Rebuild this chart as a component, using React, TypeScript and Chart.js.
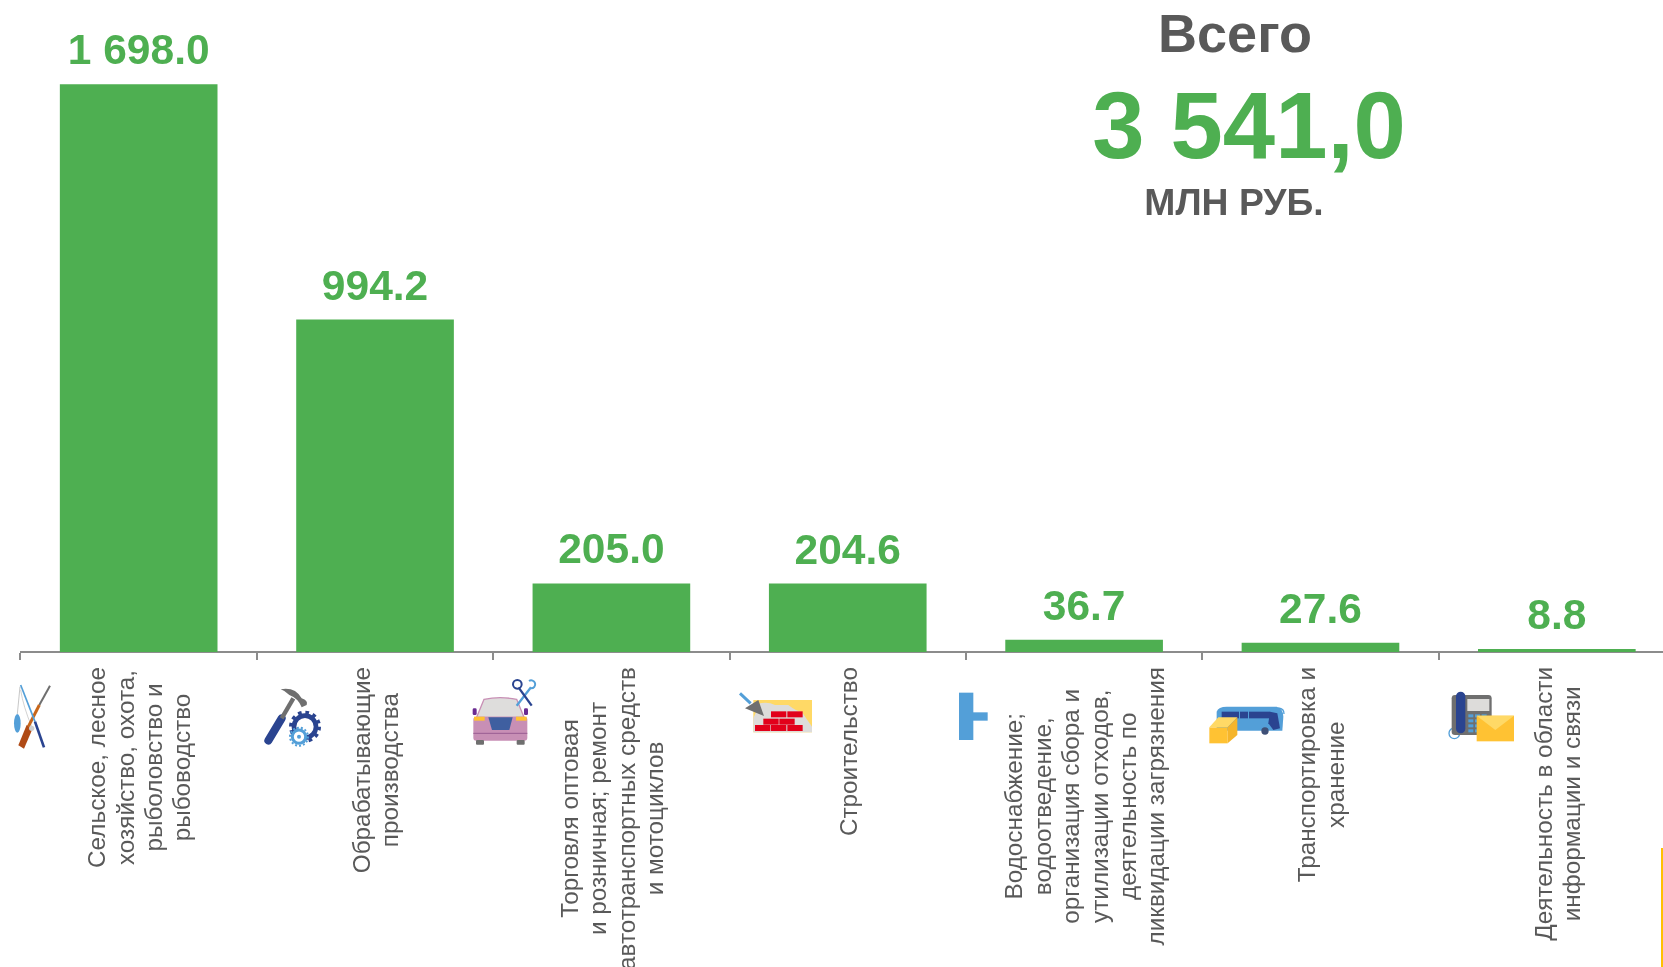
import React, { useEffect, useRef } from "react";
import { Chart, registerables } from "chart.js";

Chart.register(...registerables);

const categories: string[][] = [
  ["Сельское, лесное", "хозяйство, охота,", "рыболовство и", "рыбоводство"],
  ["Обрабатывающие", "производства"],
  ["Торговля оптовая", "и розничная; ремонт", "автотранспортных средств", "и мотоциклов"],
  ["Строительство"],
  ["Водоснабжение;", "водоотведение,", "организация сбора и", "утилизации отходов,", "деятельность по", "ликвидации загрязнения"],
  ["Транспортировка и", "хранение"],
  ["Деятельность в области", "информации и связи"],
];
const values: number[] = [1698.0, 994.2, 205.0, 204.6, 36.7, 27.6, 8.8];
const headline = "Всего";
const total = "3 541,0";
const unit = "МЛН РУБ.";

const GREEN = "#4EAF51";
const GREY = "#595959";
const AXIS = "#8C8C8C";
const FONT = "'Liberation Sans', Arial, sans-serif";
const TICK_SIZE = 24.3;
const TICK_LINE = 28.4;
const LABEL_TOP = 667;

const fmt = (v: number) => {
  const [a, b] = v.toFixed(1).split(".");
  return a.replace(/\B(?=(\d{3})+$)/g, " ") + "." + b;
};

const textPlugin = {
  id: "texts",
  beforeDraw(chart: any) {
    const scale = chart.scales.x;
    const items = scale.getLabelItems(chart.chartArea);
    const ctx = chart.ctx;
    ctx.save();
    ctx.font = `${TICK_SIZE}px ${FONT}`;
    items.forEach((item: any) => {
      const lines: string[] = Array.isArray(item.label) ? item.label : [item.label];
      const longest = Math.max(...lines.map((l) => ctx.measureText(l).width));
      const idx = categories.findIndex((c) => c[0] === lines[0]);
      item.textOffset = (-(lines.length - 1) / 2) * TICK_LINE;
      item.options.textAlign = "center";
      item.options.textBaseline = "middle";
      item.options.translation = [scale.getPixelForTick(idx) + 2.5, LABEL_TOP + longest / 2];
    });
    ctx.restore();
  },
  afterDraw(chart: any) {
    const ctx = chart.ctx;
    ctx.save();
    ctx.textAlign = "center";
    ctx.textBaseline = "alphabetic";
    ctx.fillStyle = GREEN;
    ctx.font = `bold 42.5px ${FONT}`;
    chart.getDatasetMeta(0).data.forEach((bar: any, i: number) => {
      ctx.fillText(fmt(values[i]), bar.x, bar.y - 20);
    });
    ctx.fillStyle = GREY;
    ctx.font = `bold 54px ${FONT}`;
    ctx.fillText(headline, 1235, 52);
    ctx.fillStyle = GREEN;
    ctx.font = `bold 94px ${FONT}`;
    ctx.fillText(total, 1249, 158);
    ctx.fillStyle = GREY;
    ctx.font = `bold 37.3px ${FONT}`;
    ctx.fillText(unit, 1234, 215);
    ctx.restore();
  },
};

const NAVY = "#2A4490";
const BLUE = "#539FD8";
const YEL = "#FFC233";
const YEL2 = "#FFD966";
const GR = "#6F6F6F";
const PINK = "#C88FB5";
const S = "scale(0.33333)";

const bricks = [
  [933, 124], [982, 124], [910, 146], [958, 146], [885, 165], [933, 165], [982, 165],
];
const keys = [103, 118, 133, 148];

const Icons = () => (
  <svg width={1663} height={967} style={{ position: "absolute", left: 0, top: 0, pointerEvents: "none" }}>
    <g transform={`translate(0,670) ${S}`}>
      <path d="M60,50 L52,132" stroke="#AAA" strokeWidth={2} fill="none" />
      <path d="M62,60 Q70,110 95,170" stroke="#BBB" strokeWidth={2} fill="none" />
      <ellipse cx={52} cy={160} rx={10} ry={28} fill={BLUE} />
      <line x1={150} y1={47} x2={118} y2={105} stroke={GR} strokeWidth={6} />
      <line x1={118} y1={105} x2={85} y2={170} stroke="#C8661A" strokeWidth={9} />
      <polygon points="80,165 97,178 72,236 55,226" fill="#B04A15" />
      <line x1={62} y1={45} x2={105} y2={155} stroke={BLUE} strokeWidth={5} />
      <line x1={105} y1={155} x2={132} y2={232} stroke={NAVY} strokeWidth={8} />
      <circle cx={95} cy={175} r={8} fill="#CFCFCF" />
      <line x1={805} y1={212} x2={845} y2={145} stroke={NAVY} strokeWidth={24} strokeLinecap="round" />
      <line x1={845} y1={145} x2={880} y2={85} stroke={GR} strokeWidth={13} />
      <path d="M842,58 Q885,50 905,85 Q925,92 920,105 L905,112 Q895,85 868,75 Q855,62 842,58 Z" fill={GR} />
      <circle cx={915} cy={170} r={33} fill="none" stroke={NAVY} strokeWidth={14} />
      <circle cx={915} cy={170} r={43} fill="none" stroke={NAVY} strokeWidth={10} strokeDasharray="11 11.5" />
      <circle cx={897} cy={200} r={20} fill="#fff" stroke={BLUE} strokeWidth={9} />
      <circle cx={897} cy={200} r={27} fill="none" stroke={BLUE} strokeWidth={6} strokeDasharray="6 6" />
      <circle cx={897} cy={200} r={6} fill={BLUE} />
    </g>
    <g transform={`translate(460,670) ${S}`}>
      <path d="M50,142 L72,88 Q120,78 170,88 L192,142 Z" fill="#DEDDDC" stroke={PINK} strokeWidth={4} />
      <rect x={40} y={140} width={162} height={72} rx={9} fill={PINK} />
      <rect x={42} y={140} width={32} height={12} fill={YEL} />
      <rect x={168} y={140} width={32} height={12} fill={YEL} />
      <polygon points="85,142 158,142 148,180 96,180" fill="#3F5FA0" />
      <line x1={40} y1={190} x2={202} y2={190} stroke="#995C93" strokeWidth={3} />
      <rect x={48} y={210} width={24} height={14} rx={3} fill={GR} />
      <rect x={170} y={210} width={24} height={14} rx={3} fill={GR} />
      <rect x={38} y={115} width={12} height={20} rx={4} fill="#6A2C91" />
      <rect x={192} y={115} width={12} height={20} rx={4} fill="#6A2C91" />
      <line x1={170} y1={107} x2={213} y2={52} stroke={BLUE} strokeWidth={7} />
      <line x1={215} y1={107} x2={176} y2={53} stroke={NAVY} strokeWidth={7} />
      <circle cx={172} cy={43} r={13} fill="none" stroke={NAVY} strokeWidth={6} />
      <path d="M207,33 A12,12 0 1 1 213,55" fill="none" stroke={BLUE} strokeWidth={6} />
      <rect x={880} y={90} width={176} height={97} fill={YEL2} />
      <path d="M880,187 L880,145 L900,100 Q925,95 945,105 L985,105 Q1010,125 1025,125 L1056,170 L1056,187 Z" fill="#DDDCDA" />
      {bricks.map(([x, y], i) => (
        <rect key={i} x={x} y={y} width={46} height={18} fill="#E2001A" />
      ))}
      <polygon points="895,90 912,138 855,115" fill={GR} />
      <line x1={840} y1={70} x2={872} y2={100} stroke={BLUE} strokeWidth={9} />
    </g>
    <g transform={`translate(950,680) ${S}`}>
      <rect x={27} y={38} width={43} height={142} fill={BLUE} />
      <rect x={68} y={97} width={45} height={25} fill={BLUE} />
      <path d="M800,95 Q805,80 830,80 L980,80 Q1000,85 1000,110 L997,152 L800,152 Z" fill={BLUE} />
      <path d="M985,84 Q1003,86 1002,102" fill="none" stroke={BLUE} strokeWidth={4} />
      <rect x={815} y={95} width={52} height={20} fill={NAVY} />
      <rect x={870} y={95} width={24} height={20} fill={NAVY} />
      <rect x={897} y={95} width={63} height={20} fill={NAVY} />
      <polygon points="960,95 982,100 990,145 970,150 955,130" fill={NAVY} />
      <circle cx={945} cy={153} r={11} fill="#3F5077" />
      <polygon points="778,142 833,142 833,190 778,190" fill={YEL} />
      <polygon points="778,142 805,112 862,112 833,142" fill={YEL2} />
      <polygon points="833,142 862,112 862,165 833,190" fill="#F5B52B" />
    </g>
    <g transform={`translate(1440,680) ${S}`}>
      <circle cx={43} cy={160} r={16} fill="none" stroke={BLUE} strokeWidth={4} />
      <rect x={35} y={45} width={120} height={120} rx={10} fill={GR} />
      <rect x={82} y={57} width={66} height={36} fill="#DDDCDA" />
      {keys.map((y) =>
        [85, 105, 125].map((x) => <rect key={`${x}-${y}`} x={x} y={y} width={15} height={9} fill={BLUE} />)
      )}
      <rect x={48} y={35} width={28} height={125} rx={14} fill={NAVY} />
      <rect x={110} y={107} width={112} height={77} fill={YEL} />
      <polygon points="110,107 222,107 166,150" fill={YEL2} />
    </g>
    <rect x={1661} y={848} width={2} height={119} fill="#FFC000" />
  </svg>
);

export default function App() {
  const ref = useRef<HTMLCanvasElement>(null);
  useEffect(() => {
    const chart = new Chart(ref.current as HTMLCanvasElement, {
      type: "bar",
      data: {
        labels: categories,
        datasets: [
          { data: values, backgroundColor: GREEN, borderWidth: 0, categoryPercentage: 1, barPercentage: 0.667 },
        ],
      },
      plugins: [textPlugin],
      options: {
        animation: false,
        responsive: false,
        layout: { padding: { left: 20.5, right: 0, top: 0, bottom: 0 } },
        plugins: { legend: { display: false }, tooltip: { enabled: false } },
        scales: {
          x: {
            afterFit: (s: any) => {
              s.height = 315;
            },
            grid: { drawOnChartArea: false, drawTicks: true, tickLength: 8, color: AXIS, lineWidth: 2 },
            border: { color: AXIS, width: 2 },
            ticks: {
              autoSkip: false,
              minRotation: 90,
              maxRotation: 90,
              color: GREY,
              font: { family: FONT, size: TICK_SIZE, lineHeight: TICK_LINE / TICK_SIZE },
            },
          },
          y: { display: false, min: 0, max: 1950 },
        },
      },
    } as any);
    return () => chart.destroy();
  }, []);
  return (
    <div style={{ position: "fixed", left: 0, top: 0, width: 1663, height: 967, overflow: "hidden", background: "#fff" }}>
      <canvas ref={ref} width={1675} height={967} style={{ position: "absolute", left: 0, top: 0 }} />
      <Icons />
    </div>
  );
}
